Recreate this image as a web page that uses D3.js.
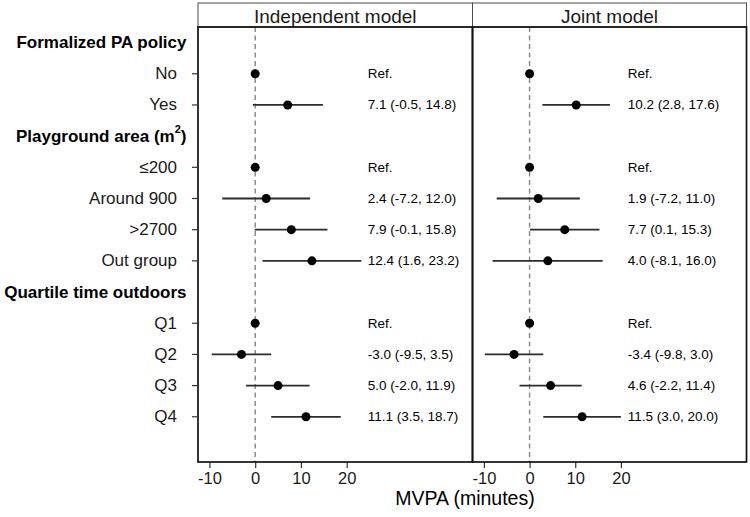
<!DOCTYPE html>
<html>
<head>
<meta charset="utf-8">
<script src="https://cdn.jsdelivr.net/npm/d3@7"></script>
<style>
  html, body { margin: 0; padding: 0; background: #fff; }
  svg { display: block; font-family: "Liberation Sans", Arial, sans-serif; }
</style>
</head>
<body>
<svg id="chart" width="750" height="517"></svg>
<script>
// ---- data ----
const rowLabels = ["Formalized PA policy", "No", "Yes", "Playground area (m2)", "≤200", "Around 900", ">2700", "Out group", "Quartile time outdoors", "Q1", "Q2", "Q3", "Q4"];
const rowIsHeader = [true, false, false, true, false, false, false, false, true, false, false, false, false];
const panelNames = ["Independent model", "Joint model"];

const indepEst = [null, 0, 7.1, null, 0, 2.4, 7.9, 12.4, null, 0, -3.0, 5.0, 11.1];
const indepLow = [null, null, -0.5, null, null, -7.2, -0.1, 1.6, null, null, -9.5, -2.0, 3.5];
const indepHigh = [null, null, 14.8, null, null, 12.0, 15.8, 23.2, null, null, 3.5, 11.9, 18.7];

const jointEst = [null, 0, 10.2, null, 0, 1.9, 7.7, 4.0, null, 0, -3.4, 4.6, 11.5];
const jointLow = [null, null, 2.8, null, null, -7.2, 0.1, -8.1, null, null, -9.8, -2.2, 3.0];
const jointHigh = [null, null, 17.6, null, null, 11.0, 15.3, 16.0, null, null, 3.0, 11.4, 20.0];

const xTicks = [-10, 0, 10, 20];
const xDomain = [-12.5, 47.5];
const labelXValue = [24.6, 21.5]; // where the estimate text sits, in data units
const xTitle = "MVPA (minutes)";

// ---- layout ----
const svg = d3.select("#chart");
const stripTop = 3, stripBottom = 27, plotBottom = 462;
const panelEdges = [198, 472.5, 746.5];
const FONT = '"Liberation Sans", Arial, sans-serif';

const y = d3.scaleLinear().domain([-0.5, 13.45]).range([stripBottom, plotBottom]);

const panels = [
  { name: panelNames[0], est: indepEst, lo: indepLow, hi: indepHigh, labelX: labelXValue[0] },
  { name: panelNames[1], est: jointEst, lo: jointLow, hi: jointHigh, labelX: labelXValue[1] }
];

const fmt = v => v.toFixed(1);

panels.forEach((p, pi) => {
  const x0 = panelEdges[pi], x1 = panelEdges[pi + 1];
  const x = d3.scaleLinear().domain(xDomain).range([x0, x1]);
  const g = svg.append("g");

  // strip
  g.append("rect").attr("x", x0).attr("y", stripTop).attr("width", x1 - x0).attr("height", stripBottom - stripTop)
    .attr("fill", "#fff").attr("stroke", "#4d4d4d").attr("stroke-width", 1);
  g.append("text").attr("x", (x0 + x1) / 2).attr("y", (stripTop + stripBottom) / 2 + 1)
    .attr("text-anchor", "middle").attr("dominant-baseline", "central")
    .attr("font-size", 19).attr("fill", "#1a1a1a").text(p.name);

  // zero reference line
  g.append("line").attr("x1", x(0)).attr("x2", x(0)).attr("y1", stripBottom).attr("y2", plotBottom)
    .attr("stroke", "#8c8c8c").attr("stroke-width", 1.5).attr("stroke-dasharray", "5,3.5");

  const idx = d3.range(rowLabels.length);

  // error bars
  g.selectAll("line.err").data(idx.filter(i => p.lo[i] != null)).join("line")
    .attr("class", "err")
    .attr("x1", i => x(p.lo[i])).attr("x2", i => x(p.hi[i]))
    .attr("y1", i => y(i)).attr("y2", i => y(i))
    .attr("stroke", "#2b2b2b").attr("stroke-width", 1.8);

  // points
  g.selectAll("circle").data(idx.filter(i => p.est[i] != null)).join("circle")
    .attr("cx", i => x(p.est[i])).attr("cy", i => y(i)).attr("r", 4.5).attr("fill", "#000");

  // estimate labels
  g.selectAll("text.lab").data(idx.filter(i => p.est[i] != null)).join("text")
    .attr("class", "lab")
    .attr("x", x(p.labelX)).attr("y", i => y(i))
    .attr("dominant-baseline", "central").attr("font-size", 13.5).attr("fill", "#000")
    .text(i => p.lo[i] == null ? "Ref." : `${fmt(p.est[i])} (${fmt(p.lo[i])}, ${fmt(p.hi[i])})`);

  // x axis
  const ax = svg.append("g").attr("transform", `translate(0,${plotBottom})`)
    .call(d3.axisBottom(x).tickValues(xTicks).tickFormat(d => String(d)).tickSize(6).tickPadding(4));
  ax.select(".domain").remove();
  ax.selectAll(".tick line").attr("stroke", "#333").attr("stroke-width", 1.2);
  ax.selectAll(".tick text").attr("font-size", 16.5).attr("font-family", FONT).attr("fill", "#1a1a1a");
});

// panel borders
panels.forEach((p, pi) => {
  const x0 = panelEdges[pi], x1 = panelEdges[pi + 1];
  svg.append("rect").attr("x", x0).attr("y", stripBottom).attr("width", x1 - x0).attr("height", plotBottom - stripBottom)
    .attr("fill", "none").attr("stroke", "#111").attr("stroke-width", 1.7);
});

// y axis labels and ticks
const yIdx = d3.range(rowLabels.length);
svg.selectAll("line.ytick").data(yIdx.filter(i => !rowIsHeader[i])).join("line")
  .attr("class", "ytick")
  .attr("x1", panelEdges[0] - 6).attr("x2", panelEdges[0])
  .attr("y1", i => y(i)).attr("y2", i => y(i))
  .attr("stroke", "#333").attr("stroke-width", 1.2);

const ylab = svg.selectAll("text.ylab").data(yIdx).join("text")
  .attr("class", "ylab")
  .attr("x", i => rowIsHeader[i] ? 186.5 : 177)
  .attr("y", i => y(i))
  .attr("text-anchor", "end").attr("dominant-baseline", "central")
  .attr("font-size", 17)
  .attr("font-weight", i => rowIsHeader[i] ? "bold" : "normal")
  .attr("fill", i => rowIsHeader[i] ? "#000" : "#1a1a1a");

ylab.each(function(i) {
  const t = d3.select(this);
  const lbl = rowLabels[i];
  if (lbl.endsWith("(m2)")) {
    t.append("tspan").text(lbl.slice(0, -2));
    t.append("tspan").attr("dy", -7).attr("font-size", 11).text("2");
    t.append("tspan").attr("dy", 7).text(")");
  } else {
    t.text(lbl);
  }
});

// x axis title
svg.append("text").attr("x", 465).attr("y", 498)
  .attr("text-anchor", "middle").attr("dominant-baseline", "central")
  .attr("font-size", 19.5).attr("fill", "#000").text(xTitle);
</script>
</body>
</html>
